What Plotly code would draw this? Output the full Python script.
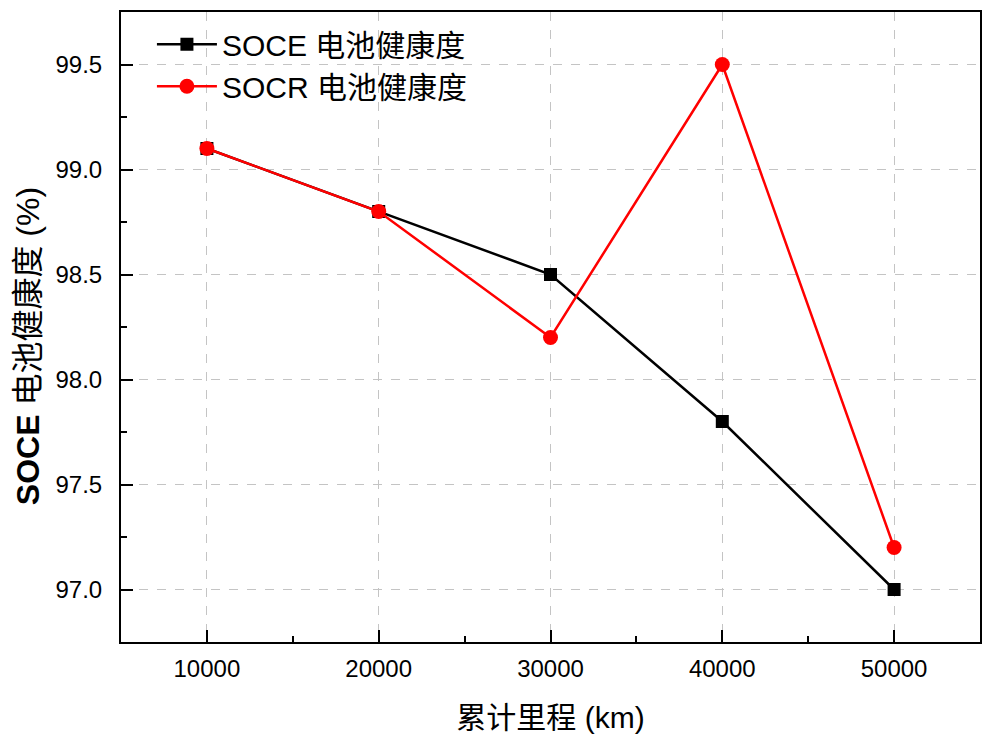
import plotly.graph_objects as go

mileage = [10000, 20000, 30000, 40000, 50000]
soce = [99.1, 98.8, 98.5, 97.8, 97.0]
socr = [99.1, 98.8, 98.2, 99.5, 97.2]
x_ticks = [10000, 20000, 30000, 40000, 50000]
y_ticks = [97.0, 97.5, 98.0, 98.5, 99.0, 99.5]

FONT = "Liberation Sans, Arial, Noto Sans CJK SC, sans-serif"

fig = go.Figure()
fig.add_trace(go.Scatter(
    x=mileage, y=soce, mode="lines+markers", name="SOCE 电池健康度",
    line=dict(color="black", width=2.5),
    marker=dict(symbol="square", size=13, color="black"),
))
fig.add_trace(go.Scatter(
    x=mileage, y=socr, mode="lines+markers", name="SOCR 电池健康度",
    line=dict(color="red", width=2.5),
    marker=dict(symbol="circle", size=15, color="red"),
))

axis_common = dict(
    showline=True, linecolor="black", linewidth=2, mirror=True,
    ticks="inside", ticklen=12, tickwidth=2, tickcolor="black",
    showgrid=True, gridcolor="#c4c4c4", griddash="dash", gridwidth=1,
    zeroline=False,
    tickfont=dict(family=FONT, size=24, color="black"),
)

fig.update_xaxes(
    range=[5000, 55000], tickvals=x_ticks, ticktext=[str(v) for v in x_ticks],
    ticklabelstandoff=4,
    minor=dict(dtick=5000, tick0=5000, ticks="inside", ticklen=6, tickwidth=2,
               tickcolor="black", showgrid=False),
    title=dict(text="累计里程 (km)", font=dict(family=FONT, size=30, color="black"), standoff=26),
    **axis_common,
)
fig.update_yaxes(
    range=[96.75, 99.75], tickvals=y_ticks, tickformat=".1f",
    ticklabelstandoff=12,
    minor=dict(dtick=0.25, tick0=96.75, ticks="inside", ticklen=6, tickwidth=2,
               tickcolor="black", showgrid=False),
    **axis_common,
)

fig.add_annotation(
    text="<b>SOCE</b> 电池健康度 (%)", textangle=-90,
    xref="paper", yref="paper", x=-0.108, y=0.47,
    xanchor="center", yanchor="middle", showarrow=False,
    font=dict(family=FONT, size=32, color="black"),
)

fig.update_layout(
    width=994, height=743,
    margin=dict(l=121, r=14, t=10, b=101),
    plot_bgcolor="white", paper_bgcolor="white",
    showlegend=True,
    legend=dict(x=0.036, y=0.99, xanchor="left", yanchor="top",
                bgcolor="rgba(0,0,0,0)", borderwidth=0,
                font=dict(family=FONT, size=30, color="black"),
                tracegroupgap=0, itemwidth=60),
)

fig.write_html("out.html")
